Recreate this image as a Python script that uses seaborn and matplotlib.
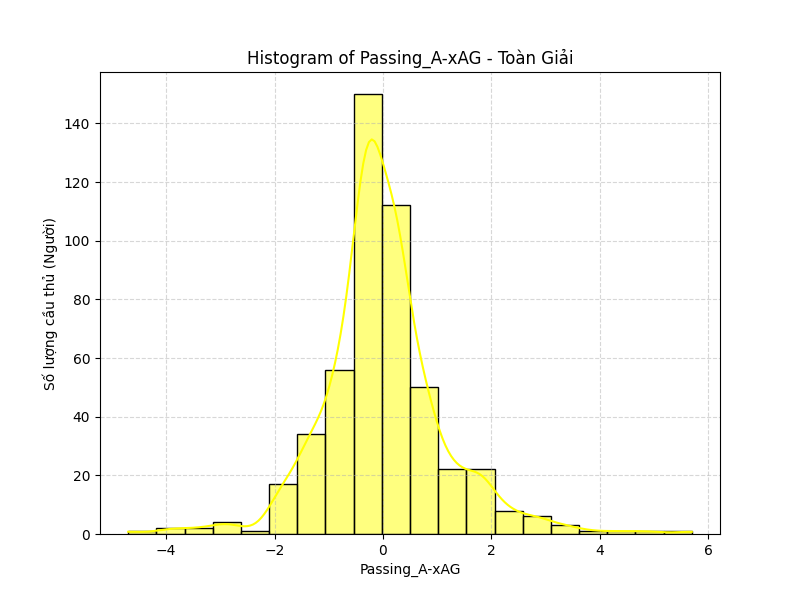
import numpy as np
import pandas as pd
import seaborn as sns
import matplotlib.pyplot as plt

# bin range and counts
x_min, x_max = -4.70, 5.70
n_bins = 20
counts = [1, 2, 2, 4, 1, 17, 34, 56, 150, 112, 50, 22, 22, 8, 6, 3, 1, 1, 1, 1]
edges = np.linspace(x_min, x_max, n_bins + 1)
values = (edges[:-1] + edges[1:]) / 2
# the lowest and highest players sit on the outer edges of the range
values[0], values[-1] = x_min, x_max

df = pd.DataFrame({'Passing_A-xAG': values, 'count': counts})

plt.figure(figsize=(8, 6), dpi=100)
sns.histplot(data=df, x='Passing_A-xAG', weights='count', bins=n_bins,
             binrange=(x_min, x_max), kde=True, color='yellow',
             edgecolor='black', alpha=0.5, kde_kws={'bw_adjust': 0.32},
             line_kws={'linewidth': 1.5})
plt.title('Histogram of Passing_A-xAG - Toàn Giải')
plt.xlabel('Passing_A-xAG')
plt.ylabel('Số lượng cầu thủ (Người)')
plt.grid(True, linestyle='--', alpha=0.5)
plt.savefig('out.png')
